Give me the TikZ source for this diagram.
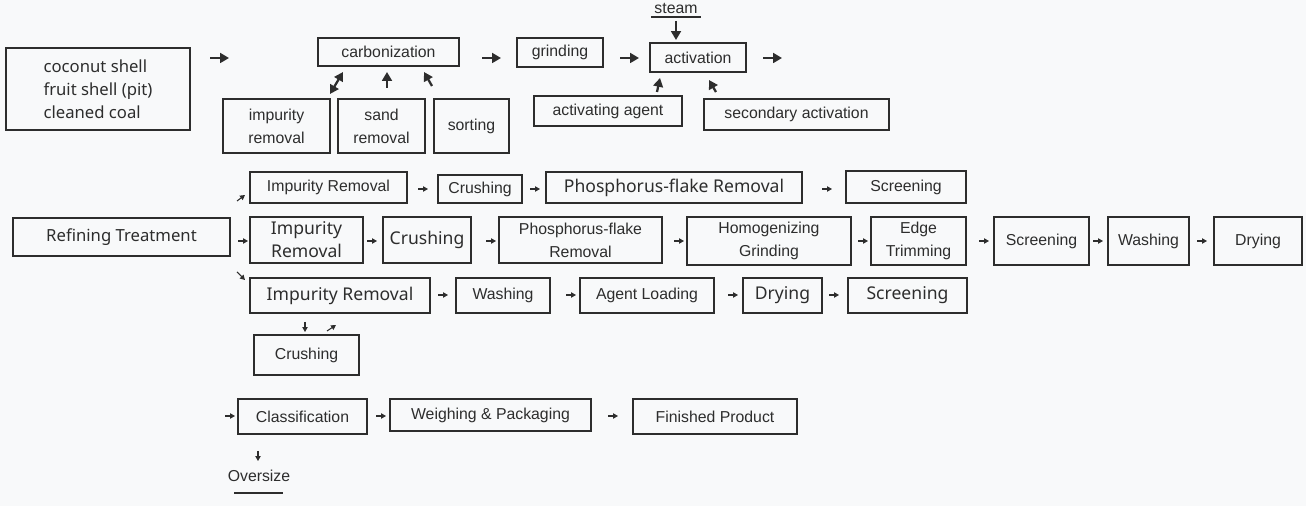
\documentclass[tikz,border=0pt]{standalone}
\usepackage{fontspec}
\setmainfont{Liberation Sans}
\newfontfamily\notofont{Noto Sans}
\usetikzlibrary{arrows, arrows.meta}
\definecolor{bgcol}{RGB}{248,249,250}
\definecolor{linecol}{RGB}{45,45,45}
\tikzset{
  procbox/.style={draw=linecol, line width=1.1pt, inner sep=0pt, align=center,
    font=\fontsize{9}{13}\selectfont, text=linecol},
  bigarr/.style={-{Triangle[length=5pt,width=5.5pt]}, line width=1.3pt, linecol},
  smallarr/.style={-{Triangle[length=2.8pt,width=3pt]}, line width=0.6pt, linecol}
}
% box from pixel corners
\newcommand{\bx}[7][]{\node[procbox,#1,minimum width={(#5-#3)*0.02cm},
  minimum height={(#6-#4)*0.02cm}] (#2) at ({(#3+#5)/2},{(#4+#6)/2}) {#7};}
\begin{document}
\begin{tikzpicture}[x=0.02cm, y=-0.02cm]
\fill[bgcol] (0,0) rectangle (1306,506);
\useasboundingbox (0,0) rectangle (1306,506);
% raw material and first stage
\bx[align=left,font=\notofont\fontsize{9.5}{13}\selectfont]{raw}{6}{48}{190}{130}{coconut shell\\fruit shell (pit)\\cleaned coal}
\bx{carb}{318}{38}{459}{66}{carbonization}
\bx{impur}{223}{99}{330}{153}{impurity\\removal}
\bx{sand}{338}{99}{425}{153}{sand\\removal}
\bx{sort}{434}{99}{509}{153}{sorting}
\bx{grind}{517}{38}{603}{67}{grinding}
\bx{activ}{650}{43}{746}{72}{activation}
\bx{agent}{534}{96}{682}{126}{activating agent}
\bx{second}{704}{99}{889}{130}{secondary activation}
\node[font=\fontsize{9}{11}\selectfont, text=linecol] (steam) at (676,8) {steam};
\draw[linecol, line width=0.7pt] (651,17) -- (701,17);
\draw[bigarr] (676,21) -- (676,40);
\draw[bigarr] (210,58) -- (229,58);
\draw[bigarr] (482,58) -- (501,58);
\draw[bigarr] (620,58) -- (639,58);
\draw[bigarr] (763,58) -- (782,58);
\draw[{Triangle[length=5pt,width=5.5pt]}-{Triangle[length=5pt,width=5.5pt]}, line width=1.3pt, linecol] (330,94) -- (343,72);
\draw[bigarr] (387,88) -- (387,72);
\draw[bigarr] (432,86) -- (424,72);
\draw[bigarr] (657,92) -- (660,78);
\draw[bigarr] (716,92) -- (709,80);
% refining: first line
\bx{imprA}{250}{172}{407}{203}{Impurity Removal}
\bx{crushA}{438}{175}{522}{203}{Crushing}
\bx[font=\notofont\fontsize{10}{13}\selectfont]{phosA}{546}{172}{802}{203}{Phosphorus-flake Removal}
\bx{screenA}{846}{171}{966}{203}{Screening}
\draw[smallarr] (237,201) -- (245,195);
\draw[smallarr] (418,189) -- (428,189);
\draw[smallarr] (530,189) -- (540,189);
\draw[smallarr] (822,189) -- (832,189);
% refining: second line
\bx[font=\notofont\fontsize{9.5}{13}\selectfont]{refine}{13}{218}{230}{256}{Refining Treatment}
\bx[font=\notofont\fontsize{10}{13}\selectfont]{imprB}{250}{217}{363}{263}{Impurity\\Removal}
\bx[font=\notofont\fontsize{10}{13}\selectfont]{crushB}{383}{217}{471}{263}{Crushing}
\bx{phosB}{499}{217}{662}{263}{Phosphorus-flake\\Removal}
\bx{homog}{687}{217}{851}{265}{Homogenizing\\Grinding}
\bx{edge}{871}{217}{966}{265}{Edge\\Trimming}
\bx{screenB}{994}{217}{1089}{265}{Screening}
\bx{washB}{1108}{217}{1189}{265}{Washing}
\bx{dryB}{1214}{217}{1302}{265}{Drying}
\foreach \xa in {238,367,486,674,858,979,1093,1197}
  \draw[smallarr] (\xa,241) -- (\xa+10,241);
% refining: third line
\bx[font=\notofont\fontsize{10}{13}\selectfont]{imprC}{250}{278}{430}{313}{Impurity Removal}
\bx{washC}{456}{278}{550}{313}{Washing}
\bx{loadC}{580}{278}{714}{313}{Agent Loading}
\bx[font=\notofont\fontsize{10}{13}\selectfont]{dryC}{743}{278}{822}{313}{Drying}
\bx[font=\notofont\fontsize{10}{13}\selectfont]{screenC}{848}{278}{967}{313}{Screening}
\foreach \xa in {438,566,728,829}
  \draw[smallarr] (\xa,295) -- (\xa+10,295);
\draw[smallarr] (237,272) -- (245,280);
\bx{crushC}{254}{335}{359}{375}{Crushing}
\draw[smallarr] (305,322) -- (305,332);
\draw[smallarr] (327,331) -- (336,325);
% final stage
\bx{classif}{238}{399}{367}{434}{Classification}
\bx{pack}{390}{399}{591}{431}{Weighing \& Packaging}
\bx{product}{633}{399}{797}{434}{Finished Product}
\foreach \xa in {225,376,608}
  \draw[smallarr] (\xa,416) -- (\xa+10,416);
\draw[smallarr] (258,451) -- (258,461);
\node[font=\fontsize{9}{11}\selectfont, text=linecol] (oversize) at (259,476) {Oversize};
\draw[linecol, line width=0.7pt] (234,493) -- (283,493);
\end{tikzpicture}
\end{document}
